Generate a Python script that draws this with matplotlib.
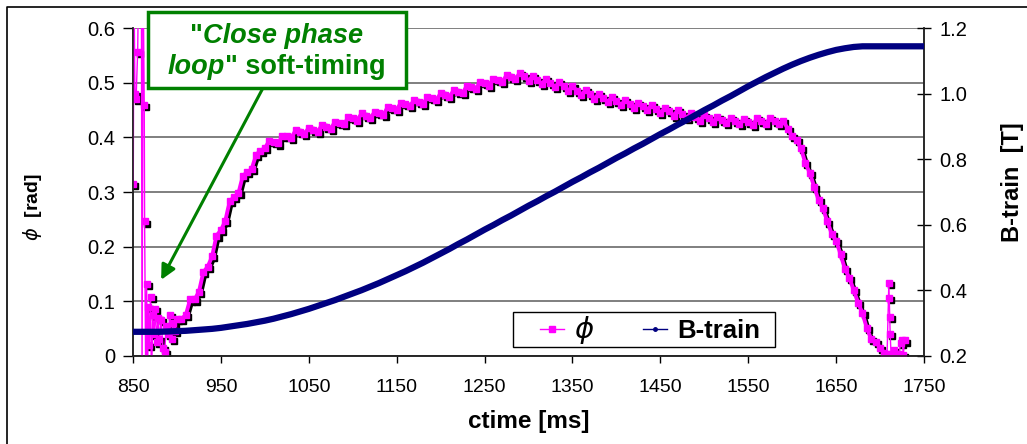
import matplotlib.pyplot as plt
import matplotlib.transforms as mtransforms
from matplotlib.lines import Line2D
from matplotlib.patches import Rectangle

plt.rcParams['font.family'] = ['Liberation Sans', 'DejaVu Sans']
plt.rcParams['mathtext.fontset'] = 'dejavusans'

# --- phase signal (rad), noisy start while the loop closes
phi_t_start = [850.3, 851.0, 852.2, 853.5, 855.3, 856.5, 858.0, 859.5, 860.3, 861.5,
               862.8, 863.2, 864.5, 865.5, 866.5, 867.5, 868.5, 870.0, 871.0, 872.5,
               874.0, 875.5, 877.0, 878.5, 880.0, 882.0, 884.0, 886.0, 888.0, 890.0,
               892.0, 894.0, 896.0, 898.0]
phi_v_start = [0.315, 0.700, 0.480, 0.470, 0.557, 0.700, 0.620, 0.700, -0.050, 0.700,
               0.459, 0.246, -0.050, 0.131, -0.050, 0.090, 0.020, 0.108, -0.050, 0.075,
               0.040, 0.085, 0.025, 0.070, 0.030, 0.065, 0.015, 0.007, 0.055, 0.040,
               0.075, 0.030, 0.060, 0.045]

# main part, sampled every 5 ms
phi_t_main = list(range(900, 1706, 5))
phi_v_main = [
    0.068, 0.068, 0.074, 0.103, 0.103, 0.117, 0.153, 0.163, 0.182, 0.220,
    0.230, 0.247, 0.283, 0.291, 0.298, 0.330, 0.336, 0.342, 0.368, 0.376,
    0.380, 0.394, 0.392, 0.389, 0.403, 0.402, 0.399, 0.413, 0.410, 0.406,
    0.418, 0.414, 0.410, 0.423, 0.420, 0.416, 0.429, 0.427, 0.424, 0.437,
    0.435, 0.431, 0.444, 0.440, 0.435, 0.447, 0.445, 0.442, 0.456, 0.454,
    0.451, 0.464, 0.461, 0.457, 0.469, 0.465, 0.461, 0.474, 0.472, 0.468,
    0.481, 0.478, 0.474, 0.487, 0.484, 0.481, 0.495, 0.492, 0.489, 0.502,
    0.499, 0.495, 0.508, 0.505, 0.501, 0.514, 0.511, 0.507, 0.518, 0.512,
    0.504, 0.513, 0.506, 0.498, 0.507, 0.500, 0.492, 0.501, 0.494, 0.485,
    0.494, 0.486, 0.478, 0.487, 0.480, 0.471, 0.480, 0.472, 0.465, 0.474,
    0.467, 0.459, 0.468, 0.462, 0.454, 0.464, 0.457, 0.450, 0.460, 0.453,
    0.445, 0.454, 0.448, 0.440, 0.450, 0.443, 0.435, 0.445, 0.438, 0.431,
    0.441, 0.435, 0.428, 0.438, 0.432, 0.426, 0.436, 0.430, 0.424, 0.434,
    0.429, 0.423, 0.435, 0.430, 0.425, 0.436, 0.430, 0.424, 0.430, 0.416,
    0.402, 0.395, 0.380, 0.353, 0.335, 0.310, 0.285, 0.270, 0.246, 0.223,
    0.211, 0.186, 0.159, 0.143, 0.120, 0.097, 0.078, 0.050, 0.030, 0.025,
    0.015, 0.005]

# tail with the last spike
phi_t_end = [1708, 1710, 1710.5, 1711, 1711.5, 1712.5, 1716, 1719, 1721.5, 1723.5,
             1725, 1726.5, 1728]
phi_v_end = [0.003, 0.134, 0.105, 0.071, 0.040, 0.004, 0.010, 0.000, 0.004, 0.023,
             0.029, 0.002, 0.028]

# --- B-train (T), every 10 ms
btrain_t = list(range(850, 1751, 10))
btrain_v = [
    0.273, 0.273, 0.273, 0.273, 0.274, 0.275, 0.276, 0.278, 0.280, 0.282,
    0.285, 0.289, 0.293, 0.297, 0.302, 0.307, 0.313, 0.320, 0.327, 0.335,
    0.343, 0.352, 0.361, 0.370, 0.380, 0.390, 0.400, 0.411, 0.422, 0.434,
    0.446, 0.458, 0.471, 0.484, 0.498, 0.512, 0.526, 0.541, 0.555, 0.570,
    0.585, 0.599, 0.614, 0.628, 0.643, 0.658, 0.672, 0.687, 0.701, 0.716,
    0.731, 0.745, 0.760, 0.774, 0.789, 0.804, 0.818, 0.833, 0.847, 0.862,
    0.877, 0.891, 0.906, 0.920, 0.935, 0.950, 0.964, 0.979, 0.993, 1.008,
    1.023, 1.037, 1.051, 1.064, 1.077, 1.089, 1.100, 1.110, 1.119, 1.127,
    1.134, 1.139, 1.143, 1.145, 1.145, 1.145, 1.145, 1.145, 1.145, 1.145,
    1.145]

x_ticks = list(range(850, 1751, 100))
phi_ticks = [0, 0.1, 0.2, 0.3, 0.4, 0.5, 0.6]
phi_tick_labels = ['0', '0.1', '0.2', '0.3', '0.4', '0.5', '0.6']
b_ticks = [0.2, 0.4, 0.6, 0.8, 1.0, 1.2]
b_tick_labels = ['0.2', '0.4', '0.6', '0.8', '1.0', '1.2']

phi_t = phi_t_start + phi_t_main + phi_t_end
phi_v = phi_v_start + phi_v_main + phi_v_end

MAGENTA = '#ff00ff'
NAVY = '#000080'
GREEN = '#008000'
W, H = 1027, 444

fig = plt.figure(figsize=(W / 100, H / 100), dpi=100)
ax = fig.add_axes([133 / W, 1 - 355.7 / H, 791 / W, 327.4 / H])
ax2 = ax.twinx()

# grid
for v in phi_ticks:
    ax.axhline(v, color='#6a6a6a', lw=1.2, zorder=0)

# phi: black "shadow" then magenta markers
shadow = ax.transData + mtransforms.ScaledTranslation(1.5 / 72, -1.5 / 72, fig.dpi_scale_trans)
ax.plot(phi_t, phi_v, ls='none', marker='s', ms=4.6, color='black', transform=shadow, zorder=2)
ax.plot(phi_t_main, phi_v_main, color='black', lw=2.8, transform=shadow, zorder=2)
ax.plot(phi_t, phi_v, color=MAGENTA, lw=1, marker='s', ms=4.6, mec=MAGENTA, zorder=3)
ax.plot(phi_t_main, phi_v_main, color=MAGENTA, lw=2.8, zorder=3)

# B-train
ax2.plot(btrain_t, btrain_v, color=NAVY, lw=4.5, solid_capstyle='butt', zorder=3)

ax.set_xlim(850, 1750)
ax.set_ylim(0, 0.6)
ax2.set_ylim(0.2, 1.2)

ax.set_xticks(x_ticks)
ax.set_yticks(phi_ticks, phi_tick_labels)
ax2.set_yticks(b_ticks, b_tick_labels)

ax.tick_params(axis='x', direction='out', length=5, width=1, pad=12, labelsize=14)
ax.tick_params(axis='y', direction='out', length=7, width=1, pad=6, labelsize=14.5)
ax2.tick_params(axis='y', direction='inout', length=10, width=1, pad=6, labelsize=14.5)

for a in (ax, ax2):
    for s in a.spines.values():
        s.set_color('#222222')
        s.set_linewidth(1.1)
ax.spines['top'].set_visible(False)
ax2.spines['top'].set_visible(False)

ax.set_xlabel('ctime [ms]', fontsize=17.5, fontweight='bold')
ax.xaxis.set_label_coords(0.5, -0.166)
ax.set_ylabel(r'$\phi$  [rad]', fontsize=14, fontweight='bold')
ax.yaxis.set_label_coords(-0.112, 0.455)
ax2.set_ylabel('B-train  [T]', fontsize=17, fontweight='bold')
ax2.yaxis.set_label_coords(1.097, 0.53)

# legend: frame drawn as a patch, entries placed inside
ax2.add_patch(Rectangle((0.4804, 0.0266), 0.3312, 0.1069, transform=ax2.transAxes,
                        facecolor='white', edgecolor='black', lw=1, zorder=4.5))
handles = [Line2D([], [], color=MAGENTA, lw=1, marker='s', ms=4),
           Line2D([], [], color=NAVY, lw=1, marker='o', ms=2.5)]
leg = ax2.legend(handles, [r'$\phi$', 'B-train'], loc='center left',
                 bbox_to_anchor=(0.5145, 0.08), borderaxespad=0, borderpad=0,
                 ncol=2, fontsize=18.5, frameon=False,
                 handlelength=0.92, handletextpad=0.4, columnspacing=1.9)
leg.set_zorder(5)
leg.get_texts()[0].set_fontsize(21)
leg.get_texts()[1].set_fontweight('bold')

# annotation box with mixed bold / bold-italic green text
fig.patches.append(Rectangle((148 / W, 1 - 88 / H), 258 / W, 76 / H,
                             transform=fig.transFigure, facecolor='white',
                             edgecolor=GREEN, lw=2.5, zorder=5))
renderer = fig.canvas.get_renderer()
fs = 19.5
box_cx = 277


def text_line(pieces, baseline_px):
    texts = []
    for s, style in pieces:
        t = fig.text(0, 1 - baseline_px / H, s, color=GREEN, fontsize=fs,
                     fontweight='bold', fontstyle=style, va='baseline', zorder=6)
        texts.append(t)
    widths = [t.get_window_extent(renderer).width for t in texts]
    x = box_cx - sum(widths) / 2
    for t, w in zip(texts, widths):
        t.set_x(x / W)
        x += w


text_line([('"', 'normal'), ('Close phase', 'italic')], 43)
text_line([('loop', 'italic'), ('" soft-timing', 'normal')], 74)

ax2.annotate('', xy=(882, 0.139), xycoords=ax.transData,
             xytext=(997.7, 0.49), textcoords=ax.transData,
             arrowprops=dict(arrowstyle='-|>', color=GREEN, lw=2.2,
                             mutation_scale=22, shrinkA=0, shrinkB=0))

# outer frame of the picture (left and top edges)
fig.add_artist(Line2D([7 / W, 7 / W, 1],
                      [0, 1 - 7 / H, 1 - 7 / H],
                      transform=fig.transFigure, color='black', lw=1.2))

fig.savefig('out.png', dpi=100, facecolor='white')
